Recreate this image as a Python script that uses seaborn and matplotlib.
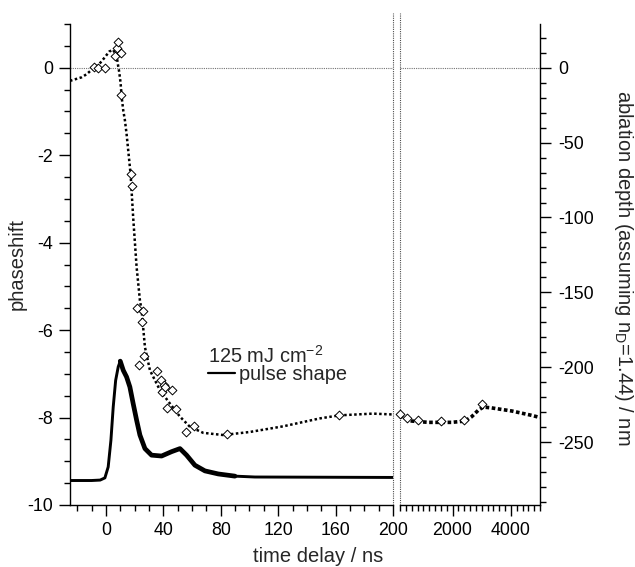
import matplotlib
matplotlib.use('Agg')
import matplotlib.pyplot as plt
import seaborn as sns
import numpy as np
import pandas as pd
from matplotlib.lines import Line2D
from matplotlib.ticker import MultipleLocator, FixedLocator

sns.set_style('ticks')
plt.rcParams['font.family'] = ['Liberation Sans', 'DejaVu Sans']
plt.rcParams['mathtext.default'] = 'regular'
plt.rcParams['axes.unicode_minus'] = False

## pulse shape (phaseshift units), time in ns
pulse_t = [-25, -10, -4, -0.7, 1.6, 3.5, 5.1, 6.8, 8.6, 10.0, 12.1, 14.4, 16.7, 19.0,
           21.4, 23.7, 27.2, 31.8, 38.8, 45.8, 51.6, 56.2, 62, 69, 78.3, 89.9, 103.8, 200]
pulse_y = [-9.44, -9.44, -9.43, -9.38, -9.13, -8.52, -7.76, -7.15, -6.84, -6.71, -6.92,
           -7.07, -7.30, -7.68, -8.06, -8.40, -8.71, -8.86, -8.88, -8.78, -8.71, -8.86,
           -9.09, -9.22, -9.29, -9.34, -9.36, -9.37]

## fitted curve, short delays (0-200 ns)
fit_t = [-25, -17, -13.5, -10, -6.5, -3.7, -0.7, 2.3, 5.1, 7.0, 7.9, 8.6, 9.3, 10.2,
         11.1, 12.1, 13.2, 14.4, 17.2, 19.0, 21.4, 23.7, 24.9, 27.2, 30.7, 37.6, 44.6,
         51.6, 58.5, 67.8, 81.7, 100.3, 123.6, 149, 162.6, 186, 200]
fit_y = [-0.30, -0.22, -0.15, -0.05, 0.03, 0.12, 0.24, 0.37, 0.41, 0.28, 0.18, 0.03,
         -0.10, -0.34, -0.70, -0.98, -1.19, -1.51, -2.43, -3.42, -4.56, -5.32, -5.55,
         -6.39, -6.92, -7.37, -7.68, -7.98, -8.21, -8.35, -8.40, -8.33, -8.20, -8.02,
         -7.95, -7.91, -7.93]

## fitted curve, long delays (200-5000 ns)
fit2_t = [200, 300, 430, 601, 1172, 1972, 2429, 2658, 2887, 3058, 3345, 4030, 4716, 5000]
fit2_y = [-7.95, -8.0, -8.02, -8.08, -8.11, -8.11, -8.08, -7.98, -7.83, -7.76, -7.78,
          -7.85, -7.95, -8.0]

## measured points
meas_t = [-8.4, -5.3, -0.7, 6.3, 7.4, 8.1, 10.5, 10.5, 17.4, 18.3, 21.4, 23.0, 24.9,
          25.6, 26.5, 35.7, 38.1, 38.8, 40.4, 41.1, 42.7, 46.2, 48.6, 55.5, 61.5, 84.1, 162.6]
meas_y = [0.02, -0.01, -0.01, 0.27, 0.46, 0.58, 0.33, -0.62, -2.44, -2.71, -5.49, -6.79,
          -5.81, -5.56, -6.60, -6.94, -7.15, -7.41, -7.26, -7.30, -7.79, -7.37, -7.81,
          -8.34, -8.20, -8.38, -7.95]
meas2_t = [205, 429, 807, 1606, 2395, 3001]
meas2_y = [-7.93, -8.02, -8.05, -8.08, -8.05, -7.69]

nm_per_phase = 29.2  # ablation depth scale (n_D = 1.44)

W, H = 635, 567
fig = plt.figure(figsize=(W / 100, H / 100), dpi=100)
ax1 = fig.add_axes([70 / W, 1 - 505 / H, (393 - 70) / W, (505 - 24) / H])
ax2 = fig.add_axes([400 / W, 1 - 505 / H, (540 - 400) / W, (505 - 24) / H], sharey=ax1)
ax3 = ax2.twinx()

dot = (0, (1, 1))
sns.lineplot(x=pulse_t, y=pulse_y, ax=ax1, color='black', lw=2.1, sort=False)
sns.lineplot(x=pulse_t[9:26], y=pulse_y[9:26], ax=ax1, color='black', lw=3.4, sort=False,
             solid_capstyle='round', solid_joinstyle='round')
sns.lineplot(x=fit_t, y=fit_y, ax=ax1, color='black', lw=1.8, linestyle=dot, sort=False)
sns.lineplot(x=fit2_t, y=fit2_y, ax=ax2, color='black', lw=2.6, linestyle=(0, (1, 0.7)), sort=False)
sns.scatterplot(x=meas_t, y=meas_y, ax=ax1, marker='D', s=20, facecolor='white',
                edgecolor='black', linewidth=0.7, zorder=5, clip_on=False)
sns.scatterplot(x=meas2_t, y=meas2_y, ax=ax2, marker='D', s=20, facecolor='white',
                edgecolor='black', linewidth=0.7, zorder=5, clip_on=False)

for ax in (ax1, ax2):
    ax.axhline(0, color='0.45', lw=0.8, linestyle=(0, (1, 1)))
ax1.axvline(200, ymin=0, ymax=1.023, color='0.3', lw=0.8, linestyle=(0, (1, 1)), clip_on=False)
ax2.axvline(200, ymin=0, ymax=1.023, color='0.3', lw=0.8, linestyle=(0, (1, 1)), clip_on=False)

ax1.set_xlim(-25, 200)
ax2.set_xlim(200, 5000)
ax1.set_ylim(-10, 1)
ax3.set_ylim(-10 * nm_per_phase, 1 * nm_per_phase)

ax1.xaxis.set_major_locator(MultipleLocator(40))
ax1.xaxis.set_minor_locator(MultipleLocator(10))
ax1.yaxis.set_major_locator(MultipleLocator(2))
ax1.yaxis.set_minor_locator(MultipleLocator(0.5))
ax2.xaxis.set_major_locator(FixedLocator([2000, 4000]))
ax2.xaxis.set_minor_locator(MultipleLocator(200))
ax3.yaxis.set_major_locator(MultipleLocator(50))
ax3.yaxis.set_minor_locator(MultipleLocator(10))

for ax in (ax1, ax2, ax3):
    ax.tick_params(which='major', length=8, width=1, color='black', labelsize=12.8,
                   labelcolor='black', pad=4)
    ax.tick_params(which='minor', length=4.3, width=1, color='black')
    for s in ax.spines.values():
        s.set_color('black')
        s.set_linewidth(1)
    ax.spines['top'].set_visible(False)
    ax.set_xlabel('')
    ax.set_ylabel('')
ax3.tick_params(which='major', pad=5)

ax1.spines['right'].set_visible(False)
ax2.spines['left'].set_visible(False)
ax2.spines['right'].set_visible(False)
ax2.tick_params(axis='y', which='both', left=False, labelleft=False)
ax3.spines['left'].set_visible(False)
ax3.spines['bottom'].set_visible(False)

fig.text(17 / W, 1 - 264 / H, 'phaseshift', rotation=90, ha='center', va='center', fontsize=14.5)
fig.text(318 / W, 1 - 556 / H, 'time delay / ns', ha='center', va='center', fontsize=14.5)
fig.text(623 / W, 1 - 268 / H, 'ablation depth (assuming n$_D$=1.44) / nm', rotation=270,
         ha='center', va='center', fontsize=14.5)

handles = [Line2D([], [], color='black', lw=1.6)]
ax1.legend(handles, ['pulse shape'], title='125 mJ cm$^{-2}$', loc='upper left',
           bbox_to_anchor=(208 / W, 1 - 345 / H), bbox_transform=fig.transFigure,
           frameon=False, borderpad=0, borderaxespad=0, handlelength=1.35,
           handletextpad=0.2, labelspacing=-0.1, alignment='left', fontsize=14.4,
           title_fontsize=14.4)

fig.savefig('out.png', dpi=100)
